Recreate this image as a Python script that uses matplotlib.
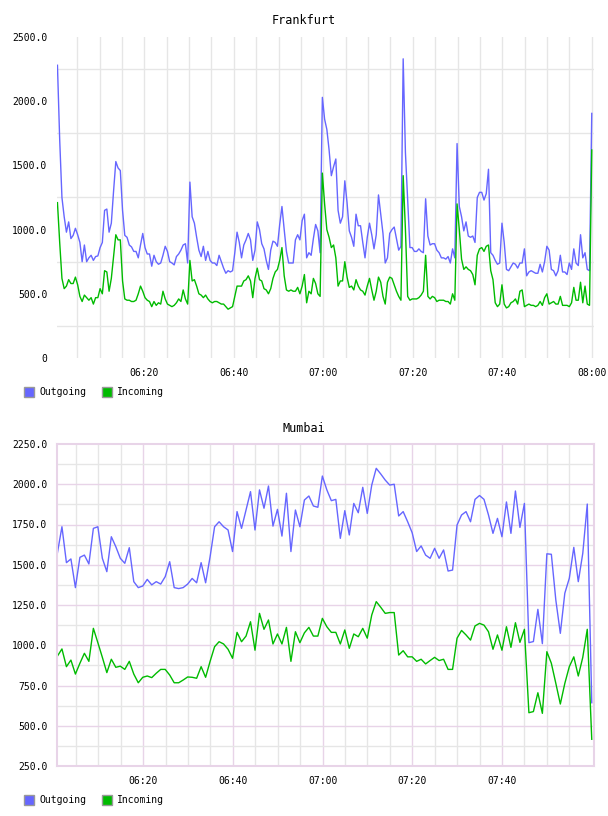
import matplotlib
matplotlib.use('Agg')
import matplotlib.pyplot as plt
import numpy as np
from matplotlib.patches import Rectangle

plt.rcParams['font.family'] = ['DejaVu Sans Mono', 'DejaVu Sans']

# Frankfurt, one sample every ~30 s from 06:00.6 to 08:00
fra_out = [2280, 1700, 1250, 1100, 980, 1060, 930, 955, 1010, 960,
           900, 750, 880, 750, 780, 800, 760, 790, 795, 860,
           900, 1150, 1160, 980, 1050, 1300, 1530, 1480, 1460, 1150,
           955, 940, 880, 865, 830, 830, 780, 880, 970, 860,
           810, 810, 715, 800, 750, 730, 740, 800, 870, 830,
           750, 740, 725, 790, 810, 840, 880, 890, 740,
           1370, 1100, 1050, 940, 840, 790, 870, 760, 830, 760,
           740, 740, 720, 800, 750, 700, 660, 680, 670, 680,
           820, 980, 900, 780, 880, 920, 970, 920, 760, 840,
           1060, 1000, 890, 850, 760, 690, 840, 910, 900, 870,
           1040, 1180, 1000, 830, 740, 740, 740, 920, 960, 920,
           1070, 1120, 780, 820, 800, 930, 1040, 990, 820, 2030,
           1860, 1780, 1620, 1420, 1490, 1550, 1150, 1050, 1100, 1380,
           1210, 990, 940, 870, 1120, 1030, 1030, 900, 780, 940,
           1050, 960, 850, 960, 1270, 1120, 970, 740, 780, 970,
           1000, 1020, 930, 840, 870, 2330, 1600, 1230, 860, 860,
           830, 830, 850, 830, 820, 1240, 950, 880, 890, 890,
           840, 820, 780, 780, 770, 790, 740, 850, 780, 1670,
           1180, 1100, 990, 1060, 950, 940, 950, 900, 1250, 1290,
           1290, 1230, 1280, 1470, 820, 800, 760, 730, 740, 1050,
           900, 690, 680, 710, 740, 730, 700, 740, 740, 850,
           640, 670, 680, 670, 660, 660, 730, 670, 750, 870,
           840, 690, 680, 640, 680, 800, 670, 670, 650, 740,
           690, 850, 740, 720, 960, 780, 820, 690, 680, 1905]
fra_in = [1210, 900, 620, 540, 560, 610, 580, 580, 630, 570,
          480, 440, 490, 470, 450, 470, 420, 470, 470, 540,
          500, 680, 670, 520, 620, 790, 960, 920, 920, 600,
          460, 450, 450, 440, 440, 450, 500, 560, 520, 470,
          450, 440, 400, 440, 410, 430, 420, 520, 460, 420,
          410, 400, 410, 430, 460, 440, 530, 460, 420,
          760, 600, 610, 560, 500, 490, 470, 490, 460, 440,
          430, 440, 440, 430, 420, 420, 400, 380, 390, 400,
          480, 560, 560, 560, 600, 610, 640, 600, 470, 620,
          700, 610, 600, 540, 530, 500, 540, 620, 670, 690,
          760, 860, 640, 530, 520, 530, 520, 520, 550, 500,
          560, 650, 430, 520, 500, 620, 580, 500, 480, 1440,
          1200, 1000, 940, 860, 880, 780, 560, 600, 600, 750,
          630, 550, 560, 530, 610, 560, 530, 520, 490, 560,
          620, 530, 450, 520, 630, 590, 480, 420, 590, 630,
          620, 570, 520, 480, 450, 1420, 1000, 480, 450, 460,
          460, 460, 470, 490, 520, 800, 480, 460, 480, 470,
          440, 450, 450, 450, 440, 440, 420, 500, 450, 1200,
          1000, 770, 690, 710, 690, 680, 650, 570, 800, 850,
          860, 830, 870, 880, 680, 610, 430, 400, 420, 570,
          420, 390, 400, 430, 440, 460, 420, 520, 530, 400,
          410, 420, 410, 410, 400, 410, 440, 410, 470, 500,
          420, 430, 440, 420, 420, 480, 410, 410, 410, 400,
          430, 550, 450, 450, 590, 430, 560, 420, 410, 1620]

# Mumbai, one sample per minute
mum_out = [1575, 1736, 1513, 1536, 1358, 1546, 1560, 1505, 1726, 1736,
           1540, 1457, 1674, 1612, 1540, 1509, 1606, 1395, 1358, 1368,
           1409, 1375, 1395, 1380, 1426, 1519, 1358, 1352, 1358, 1380,
           1415, 1388, 1513, 1388, 1550, 1736, 1767, 1736, 1716, 1582,
           1830, 1726, 1840, 1954, 1716, 1965, 1851, 1989, 1740, 1844,
           1678, 1944, 1582, 1840, 1736, 1902, 1927, 1865, 1857, 2051,
           1965, 1898, 1906, 1664, 1836, 1685, 1881, 1823, 1981, 1819,
           1995, 2099, 2064, 2026, 1995, 2000, 1803, 1830, 1767, 1699,
           1582, 1617, 1560, 1540, 1602, 1540, 1592, 1461, 1467, 1747,
           1809, 1830, 1767, 1906, 1930, 1906, 1809, 1695, 1788, 1674,
           1890, 1695, 1958, 1732, 1881, 1016, 1023, 1223, 1010, 1568,
           1565, 1280, 1074, 1323, 1416, 1608, 1395, 1571, 1877, 643]
mum_in = [933, 977, 867, 908, 821, 888, 950, 900, 1105, 1016,
          925, 830, 913, 863, 870, 850, 900, 821, 767, 801,
          809, 799, 826, 850, 850, 815, 767, 767, 784, 803,
          801, 795, 867, 801, 900, 991, 1022, 1008, 975, 919,
          1080, 1022, 1057, 1146, 969, 1198, 1099, 1157, 1008, 1070,
          1008, 1111, 900, 1084, 1016, 1077, 1111, 1057, 1057, 1167,
          1115, 1080, 1080, 1008, 1095, 981, 1070, 1053, 1105, 1044,
          1188, 1271, 1236, 1198, 1203, 1203, 939, 966, 928, 928,
          900, 913, 884, 905, 925, 905, 913, 850, 850, 1044,
          1092, 1064, 1032, 1120, 1136, 1125, 1084, 975, 1064, 969,
          1115, 987, 1140, 1018, 1099, 581, 588, 705, 577, 960,
          888, 763, 635, 763, 867, 928, 809, 925, 1099, 416]

time_ticks = [20, 40, 60, 80, 100, 120]
time_labels = ['06:20', '06:40', '07:00', '07:20', '07:40', '08:00']
series_names = ['Outgoing', 'Incoming']

OUT_C = '#6666ff'
IN_C = '#00bb00'
GRID_C = '#e6e6e6'
PINK_C = '#e8d4e8'

fig = plt.figure(figsize=(6.08, 8.16), dpi=100)


def px_axes(left, top, right, bottom):
    return fig.add_axes([left / 608, 1 - bottom / 816,
                         (right - left) / 608, (bottom - top) / 816])


def legend(ypix):
    for (x0, name, col) in [(24, series_names[0], OUT_C), (102, series_names[1], IN_C)]:
        fig.add_artist(Rectangle((x0 / 608, 1 - (ypix + 5) / 816), 10 / 608, 10 / 816,
                                 transform=fig.transFigure, facecolor=col,
                                 edgecolor='#999999', lw=1))
        fig.text((x0 + 15) / 608, 1 - ypix / 816, name, ha='left', va='center',
                 fontsize=7)


# ---- Frankfurt
ax1 = px_axes(57, 37, 594, 358)
t1 = np.linspace(0.6, 120.0, len(fra_out))
for m in range(5, 121, 5):
    ax1.axvline(m, color=GRID_C, lw=1, zorder=0)
for v in [250, 750, 1250, 1750, 2250]:
    ax1.axhline(v, color=GRID_C, lw=1, zorder=0)
ax1.plot(t1, fra_out, color=OUT_C, lw=1.0)
ax1.plot(t1, fra_in, color=IN_C, lw=1.0)
ax1.set_xlim(0.5, 120.5)
ax1.set_ylim(0, 2500)
for s in ax1.spines.values():
    s.set_visible(False)
yt = [0, 500, 1000, 1500, 2000, 2500]
ax1.set_yticks(yt)
ax1.set_yticklabels(['0' if v == 0 else '%.1f' % v for v in yt])
ax1.set_xticks(time_ticks)
ax1.set_xticklabels(time_labels)
ax1.tick_params(length=0, labelsize=7, pad=7)
fig.text(304 / 608, 1 - 20 / 816, 'Frankfurt', ha='center', va='center', fontsize=8.5)
legend(392)

# ---- Mumbai
ax2 = px_axes(57, 444, 594, 766)
t2 = np.linspace(0.9, 120.0, len(mum_out))
for m in range(5, 120, 5):
    ax2.axvline(m, color=PINK_C if m % 20 == 0 else GRID_C, lw=1, zorder=0)
for v in range(375, 2250, 125):
    ax2.axhline(v, color=PINK_C if v % 250 == 0 else GRID_C, lw=1, zorder=0)
ax2.plot(t2, mum_out, color=OUT_C, lw=1.0)
ax2.plot(t2, mum_in, color=IN_C, lw=1.0)
ax2.set_xlim(0.8, 120.5)
ax2.set_ylim(250, 2250)
for s in ax2.spines.values():
    s.set_color(PINK_C)
    s.set_linewidth(1.5)
yt2 = list(range(250, 2251, 250))
ax2.set_yticks(yt2)
ax2.set_yticklabels(['%.1f' % v for v in yt2])
ax2.set_xticks(time_ticks[:5])
ax2.set_xticklabels(time_labels[:5])
ax2.tick_params(length=0, labelsize=7, pad=7)
fig.text(304 / 608, 1 - 428 / 816, 'Mumbai', ha='center', va='center', fontsize=8.5)
legend(800)

fig.savefig('out.png', dpi=100)
